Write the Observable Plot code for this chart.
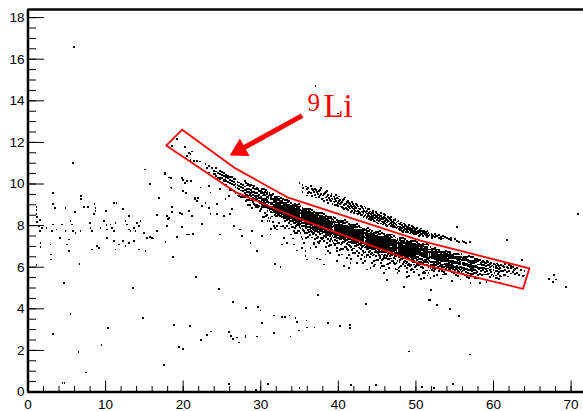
<!DOCTYPE html>
<html><head><meta charset="utf-8">
<script src="https://cdn.jsdelivr.net/npm/d3@7"></script>
<script src="https://cdn.jsdelivr.net/npm/@observablehq/plot@0.6"></script>
<style>html,body{margin:0;padding:0;background:#fff;} svg{display:block;}</style>
</head><body>
<div id="chart"></div>
<script>
// ---- axes / ticks ----
const xDomain = [0, 71.6];
const yDomain = [0, 18.39];
const xMajorTicks = [0, 10, 20, 30, 40, 50, 60, 70];
const yMajorTicks = [0, 2, 4, 6, 8, 10, 12, 14, 16, 18];
const xMinorTicks = d3.range(0, 72, 2);
const yMinorTicks = d3.range(0, 18.5, 0.5);

// ---- red selection band (polygon) ----
const polyX = [19.87, 26.74, 33.44, 50.58, 64.62, 63.81, 50.58, 34.47, 26.74, 17.81, 19.87];
const polyY = [12.61, 10.75, 9.36, 7.28, 5.94, 4.96, 6.16, 8.40, 9.61, 11.85, 12.61];

// ---- arrow and label ----
const arrowTail = [35.34, 13.29];
const arrowTip = [26.0, 11.37];
const labelMain = {x: 38.08, y: 13.21, text: "Li"};
const labelSup = {x: 36.02, y: 13.53, text: "9"};

// ---- isolated points [x, y] ----
const sparsePts = [
[5.9,16.57],[37.05,14.72],[39.92,13.39],
[5.8,11.03],[15.1,10.7],[17.7,10.5],[18.4,10.3],[15.7,10.0],[19.9,10.27],[20.2,10.06],[21.0,10.14],[18.5,9.82],[3.2,9.58],[20.0,9.66],[20.4,9.58],[6.8,9.42],[6.8,9.26],[16.9,9.34],[21.5,9.26],[21.9,9.34],[3.2,9.05],[3.45,8.86],[1.1,8.89],[1.1,8.73],[1.1,8.57],[1.2,8.41],[1.5,8.25],[4.83,8.83],[6.1,8.67],[7.2,8.89],[7.7,8.9],[8.57,9.02],[8.7,8.86],[8.7,8.7],[8.5,8.57],[11.1,9.07],[11.4,9.07],[10.0,8.7],[12.3,8.81],[13.0,8.46],[14.1,8.14],[16.6,8.5],[17.9,8.46],[18.1,8.3],[18.6,8.9],[19.6,8.6],[20.7,8.7],[21.2,8.46],
[1.18,8.18],[1.4,7.97],[1.53,7.76],[1.83,7.89],[2.39,7.89],[3.25,8.05],[3.12,7.73],[3.68,7.81],[4.41,8.05],[4.84,7.73],[5.48,8.24],[5.7,8.05],[5.82,7.73],[7.97,8.13],[8.06,7.89],[8.27,7.73],[9.35,7.89],[9.78,8.21],[10.12,8.02],[10.21,7.81],[10.64,8.05],[10.85,7.89],[11.07,7.73],[11.28,8.13],[12.57,8.21],[12.78,8.05],[13.0,7.81],[13.21,7.73],[13.64,7.89],[13.86,7.73],[14.29,7.97],[14.5,8.21],[14.93,7.65],[15.36,7.41],[15.7,7.44],[16.13,7.38],[16.65,7.73],[17.94,7.97],[19.87,7.92],[20.73,7.57],[21.29,7.6],
[1.61,7.17],[1.61,6.96],[2.9,7.09],[2.99,6.61],[2.99,6.37],[4.11,7.41],[5.05,7.09],[5.27,7.33],[5.27,6.77],[6.12,7.65],[6.77,7.73],[8.27,6.85],[8.92,7.01],[9.13,6.93],[10.21,7.41],[11.07,7.25],[11.28,6.85],[11.71,7.09],[12.27,7.25],[12.57,7.01],[13.0,7.17],[13.64,7.25],[14.29,6.85],[15.15,6.77],[16.0,7.41],[17.72,7.2],[18.71,6.48],[19.23,7.44],[20.52,7.57],[1.1,6.12],[6.64,6.16],
[4.62,5.25],[13.56,5.0],[5.48,3.75],[14.84,3.56],[3.2,2.79],[10.29,3.08],[18.8,3.21],[20.86,3.16],[6.51,1.92],[9.48,2.24],[19.5,2.15],[20.0,2.05],[7.5,0.94],[17.5,1.28],[4.45,0.44],[4.71,0.44],[21.67,5.54],
[22.31,2.51],[23.09,2.72],[23.6,2.91],[26.44,4.33],[25.88,2.88],[26.18,2.7],[26.44,2.54],[26.95,2.62],[27.17,2.38],[28.03,2.7],[28.03,2.66],[28.15,4.04],[29.53,2.67],[29.66,4.08],[29.96,3.92],[30.17,3.3],[31.76,3.68],[31.76,2.82],[32.75,3.6],[33.1,3.6],[33.7,3.68],[33.83,2.67],[34.47,3.55],[34.68,3.35],[34.94,2.96],[35.89,3.44],[35.97,3.1],[36.92,3.1],[37.43,4.65],[38.72,3.3],[40.27,3.17],[41.47,3.22],[41.47,3.07],[43.62,4.23],[49.08,1.95],[51.65,4.42],[52.73,4.17],[54.36,3.99],[55.52,3.65],[56.93,1.8],[25.88,0.39],[29.44,0.1],[30.95,0.39],[34.99,0.18],[41.6,0.34],[44.82,0.34],[50.75,0.25],[52.34,0.18],[54.79,0.39],
[24.59,4.97],[31.89,6.16],[32.54,6.02],
[21.28,7.61],[22.44,8.06],[23.52,8.54],[24.38,8.54],[24.72,7.57],[25.24,8.46],[26.09,8.54],[26.52,7.98],[27.38,7.81],[27.6,7.49],[28.67,7.17],[28.89,7.73],[29.53,6.77],[30.18,7.49],[31.25,7.57],[32.11,7.81],[32.97,7.41],[32.75,7.09],[33.4,7.17],[34.26,7.09],[34.69,6.8],[35.33,6.93],[35.76,6.77],[35.97,6.37],[36.83,7.09],[37.69,6.37],[38.34,6.61],[38.98,6.69],[39.84,6.93],[40.48,6.61],[41.13,6.45],[41.56,6.21],[42.42,6.77],[42.85,6.37],[43.49,6.29],[44.14,5.97],[44.78,6.13],[45.42,6.53],[45.85,5.73],[46.28,5.4],[46.5,5.97],
[35.76,6.53],[36.41,6.94],[37.27,6.42],[38.12,6.13],[39.84,6.29],[40.7,6.05],[41.35,5.97],[42.42,6.21],[43.71,5.89],[44.57,6.29],[45.43,5.97],[46.29,6.13],[47.57,5.89],[48.86,5.97],[49.72,6.13],
[70.94,8.55],[61.75,7.3],[67.12,5.45],[67.77,5.61],[68.11,5.41],[67.68,5.29],[69.36,5.04],[63.69,6.34],[63.81,5.57],[63.26,5.61],[60.9,5.24],[58.3,5.24],[59.09,5.28],[57.67,5.49],[51.96,4.92],[51.79,4.41],[48.44,5.04],[46.29,5.37],[48.87,5.52],[47.79,5.81],[51.01,5.49],[52.3,5.57],[54.67,5.33],[55.74,5.41],[57.03,5.24],[55.31,7.93],[45.86,6.45],[45.64,6.05],
[19.22,12.16],[18.58,11.84],[20.21,11.79],[20.73,11.51],[20.94,11.43],[21.16,11.56],[20.51,11.35],[20.94,11.14],[21.37,11.11],[21.8,11.11],[22.14,11.08],[22.87,10.95],[23.3,10.87],[23.09,10.79],[23.73,10.79],[23.95,10.63],[24.16,10.5],[23.3,10.55],[24.8,10.31],[25.24,10.15],[25.45,10.23],[25.88,10.07],
[17.63,10.55],[18.15,10.31],[18.36,9.83],[19.95,10.18],[20.51,10.15],[21.5,9.35],[22.23,9.83],[23.3,9.91],[23.52,9.59],[24.38,9.02],[24.8,9.75],[25.45,9.27],[25.88,9.43],[22.44,8.94],[22.87,9.1],[23.3,8.86],[16.86,9.35],[21.8,9.18],[18.58,8.67],[19.87,8.54],[21.16,8.46],[26.31,8.78],[18.15,8.38]
];

// ---- main 9Li band: "x  y y y ..." per column ----
const mainBand = [
"24.0 10.65 10.5","24.25 10.6 10.38 10.75","24.5 10.52 10.3","24.75 10.48 10.62 10.22",
"25.0 10.44 10.3 10.56","25.25 10.4 10.2 10.51","25.5 10.35 10.15 10.45 9.95","25.75 10.28 10.1 10.4",
"26.0 10.34 10.18 10.03 9.73","26.25 10.32 10.15 10.00 9.73","26.5 10.25 10.09 9.94 9.66","26.75 10.24 10.02 9.87 9.56",
"27.0 10.10 9.95 9.80 9.45","27.25 10.07 9.91 9.76 9.44","27.5 9.99 9.84 9.69 9.37","27.75 9.96 9.80 9.67 9.39",
"28.0 10.15 9.88 9.73 9.58 9.38","28.25 9.93 9.76 9.61 9.46 9.22","28.5 9.96 9.75 9.60 9.45 9.23","28.75 9.94 9.71 9.56 9.41 9.21",
"29.0 9.82 9.63 9.48 9.33 9.14","29.25 9.75 9.57 9.42 9.27 9.00","29.5 9.81 9.57 9.42 9.27 9.01","29.75 9.68 9.49 9.34 9.19 8.94",
"30.0 9.69 9.55 9.39 9.31 9.16 9.07 8.80","30.25 9.55 9.45 9.30 9.22 9.07 8.96 8.42","30.5 9.61 9.49 9.27 9.22 9.07 8.95 8.59","30.75 9.51 9.39 9.23 9.15 9.00 8.91 8.50",
"31.0 9.43 9.32 9.16 9.09 8.94 8.84 8.36","31.25 9.37 9.26 9.10 9.03 8.88 8.83 8.36","31.5 9.45 9.27 9.10 9.03 8.88 8.79 8.44","31.75 9.23 9.14 8.99 8.91 8.76 8.67 8.00",
"32.0 9.20 9.10 9.02 8.95 8.87 8.80 8.72 8.61 8.45","32.25 9.25 9.11 9.02 8.95 8.87 8.80 8.72 8.63 8.52","32.5 9.19 9.07 8.98 8.91 8.83 8.76 8.68 8.59 8.46","32.75 9.20 9.08 8.96 8.86 8.81 8.71 8.66 8.54 8.40",
"33.0 9.08 8.97 8.89 8.81 8.74 8.66 8.59 8.49 8.34","33.25 9.03 8.92 8.84 8.76 8.69 8.63 8.54 8.49 8.35","33.5 9.13 8.95 8.86 8.78 8.71 8.63 8.56 8.47 8.36","33.75 8.92 8.83 8.75 8.68 8.60 8.53 8.45 8.36 8.21",
"34.0 8.96 8.84 8.75 8.68 8.60 8.53 8.45 8.36 8.23 7.95","34.25 8.86 8.76 8.68 8.61 8.53 8.46 8.38 8.27 8.11 7.73","34.5 8.98 8.80 8.71 8.63 8.56 8.48 8.41 8.32 8.21 7.97","34.75 8.82 8.71 8.63 8.55 8.48 8.40 8.33 8.23 8.08 7.75",
"35.0 8.84 8.70 8.61 8.54 8.46 8.39 8.31 8.22 8.11 7.95","35.25 8.69 8.60 8.52 8.45 8.37 8.30 8.22 8.13 7.98 7.46","35.5 8.79 8.67 8.55 8.45 8.40 8.30 8.25 8.13 7.99 7.77","35.75 8.66 8.55 8.47 8.39 8.32 8.26 8.17 8.12 7.98 7.65",
"36.0 8.66 8.54 8.45 8.38 8.30 8.23 8.15 8.06 7.93 7.65","36.25 8.72 8.54 8.45 8.37 8.30 8.22 8.15 8.06 7.95 7.71","36.5 8.63 8.49 8.40 8.33 8.25 8.18 8.10 8.01 7.90 7.74","36.75 8.62 8.50 8.38 8.28 8.23 8.13 8.08 7.96 7.82 7.60",
"37.0 8.48 8.38 8.30 8.23 8.15 8.08 8.00 7.89 7.73 7.35","37.25 8.47 8.36 8.28 8.20 8.13 8.05 7.98 7.88 7.73 7.40","37.5 8.39 8.30 8.22 8.15 8.07 8.00 7.92 7.83 7.68 7.16","37.75 8.40 8.29 8.21 8.13 8.06 8.00 7.91 7.86 7.72 7.39",
"38.0 8.41 8.29 8.20 8.13 8.05 7.98 7.90 7.81 7.68 7.40","38.25 8.41 8.27 8.18 8.11 8.03 7.96 7.88 7.79 7.68 7.52","38.5 8.29 8.19 8.11 8.04 7.96 7.89 7.81 7.70 7.54 7.16","38.75 8.24 8.15 8.07 8.00 7.92 7.85 7.77 7.68 7.53 7.01",
"39.0 8.38 8.20 8.11 8.03 7.96 7.88 7.81 7.72 7.61 7.37","39.25 8.30 8.18 8.06 7.96 7.91 7.81 7.76 7.64 7.50 7.28","39.5 8.19 8.08 8.00 7.92 7.85 7.77 7.70 7.60 7.45 7.12","39.75 8.15 8.04 7.96 7.88 7.81 7.75 7.66 7.61 7.47 7.14",
"40.0 8.16 8.04 7.95 7.88 7.80 7.73 7.65 7.56 7.43 7.15","40.25 8.05 7.96 7.88 7.81 7.73 7.66 7.58 7.49 7.34 6.82","40.5 8.19 8.01 7.92 7.84 7.77 7.69 7.62 7.53 7.42 7.18","40.75 8.10 7.96 7.87 7.80 7.72 7.65 7.57 7.48 7.37 7.21",
"41.0 8.00 7.89 7.81 7.73 7.66 7.60 7.51 7.46 7.32 6.99","41.25 7.94 7.84 7.76 7.69 7.61 7.54 7.46 7.35 7.19 6.81","41.5 8.02 7.90 7.78 7.68 7.63 7.53 7.48 7.36 7.22 7.00","41.75 7.91 7.80 7.72 7.64 7.57 7.49 7.42 7.32 7.17 6.84",
"42.0 7.91 7.79 7.70 7.63 7.55 7.48 7.40 7.31 7.18 6.90","42.25 7.91 7.77 7.68 7.61 7.53 7.46 7.38 7.29 7.18 7.02","42.5 7.77 7.68 7.60 7.53 7.45 7.38 7.30 7.21 7.06 6.54","42.75 7.91 7.73 7.64 7.56 7.49 7.41 7.34 7.25 7.14 6.90",
"43.0 7.73 7.63 7.55 7.48 7.40 7.33 7.25 7.14 6.98 6.60","43.25 7.71 7.60 7.52 7.44 7.37 7.31 7.22 7.17 7.03 6.70","43.5 7.77 7.65 7.53 7.43 7.38 7.28 7.23 7.11 6.97 6.75","43.75 7.66 7.55 7.47 7.39 7.32 7.24 7.17 7.07 6.92 6.59",
"44.0 7.75 7.57 7.48 7.40 7.33 7.25 7.18 7.09 6.98 6.74","44.25 7.64 7.52 7.43 7.36 7.28 7.21 7.13 7.04 6.91 6.63","44.5 7.57 7.46 7.38 7.30 7.23 7.17 7.08 7.03 6.89 6.56","44.75 7.62 7.48 7.39 7.32 7.24 7.17 7.09 7.00 6.89 6.73",
"45.0 7.50 7.40 7.32 7.25 7.17 7.10 7.02 6.91 6.75 6.37","45.25 7.59 7.47 7.35 7.25 7.20 7.10 7.05 6.93 6.79 6.57","45.5 7.43 7.34 7.26 7.19 7.11 7.04 6.96 6.87 6.72 6.20","45.75 7.46 7.35 7.27 7.19 7.12 7.04 6.97 6.87 6.72 6.39",
"46.0 7.49 7.35 7.26 7.19 7.11 7.04 6.96 6.87 6.76 6.60","46.25 7.53 7.35 7.26 7.18 7.11 7.03 6.96 6.87 6.76 6.52","46.5 7.41 7.29 7.20 7.13 7.05 6.98 6.90 6.81 6.68 6.40","46.75 7.44 7.32 7.20 7.10 7.05 6.95 6.90 6.78 6.64 6.42",
"47.0 7.32 7.21 7.13 7.05 6.98 6.92 6.83 6.78 6.64 6.31","47.25 7.28 7.18 7.10 7.03 6.95 6.88 6.80 6.69 6.53 6.15","47.5 7.28 7.17 7.09 7.01 6.94 6.86 6.79 6.69 6.54 6.21","47.75 7.21 7.12 7.04 6.97 6.89 6.82 6.74 6.65 6.50 5.98",
"48.0 7.35 7.17 7.08 7.00 6.93 6.85 6.78 6.69 6.58 6.34","48.25 7.27 7.13 7.04 6.97 6.89 6.82 6.74 6.65 6.54 6.38","48.5 7.26 7.14 7.02 6.92 6.87 6.77 6.72 6.60 6.46 6.24","48.75 7.19 7.07 6.98 6.91 6.83 6.76 6.68 6.59 6.46 6.18",
"49.0 7.12 7.01 6.93 6.85 6.78 6.72 6.63 6.58 6.44 6.11","49.25 7.11 7.00 6.92 6.84 6.77 6.69 6.62 6.52 6.37 6.04","49.5 7.05 6.95 6.87 6.80 6.72 6.65 6.57 6.46 6.30 5.92","49.75 7.01 6.92 6.84 6.77 6.69 6.62 6.54 6.45 6.30 5.78",
"50.0 7.06 6.94 6.85 6.78 6.70 6.63 6.46 6.05","50.25 7.13 6.95 6.86 6.78 6.71 6.63 6.47 6.12","50.5 7.04 6.90 6.81 6.74 6.66 6.59 6.42 6.15","50.75 7.04 6.92 6.80 6.70 6.65 6.55 6.38 6.02",
"51.0 6.90 6.80 6.72 6.65 6.57 6.50 6.31 5.77","51.25 6.91 6.80 6.72 6.64 6.57 6.49 6.32 5.84","51.5 6.83 6.74 6.66 6.59 6.51 6.44 6.27 5.60","51.75 6.85 6.74 6.66 6.58 6.51 6.45 6.31 5.84",
"52.0 6.86 6.74 6.65 6.58 6.50 6.43 6.26 5.85","52.25 6.87 6.73 6.64 6.57 6.49 6.42 6.25 5.98","52.5 6.91 6.73 6.64 6.56 6.49 6.41 6.25 5.90","52.75 6.74 6.64 6.56 6.49 6.41 6.34 6.15 5.61",
"53.0 6.84 6.72 6.60 6.50 6.45 6.35 6.18 5.82","53.25 6.69 6.60 6.52 6.45 6.37 6.30 6.13 5.46","53.5 6.72 6.61 6.53 6.45 6.38 6.30 6.13 5.65","53.75 6.69 6.58 6.50 6.42 6.35 6.29 6.15 5.68",
"54.0 6.62 6.53 6.38 6.30 6.14 6.03","54.25 6.52 6.44 6.29 6.22 6.05 5.90","54.5 6.55 6.46 6.31 6.24 6.07 5.94","54.75 6.58 6.46 6.31 6.21 6.04 5.90",
"55.0 6.50 6.42 6.27 6.19 6.02 5.87","55.25 6.47 6.39 6.24 6.18 6.04 5.90","55.5 6.44 6.36 6.21 6.14 5.95 5.79","55.75 6.47 6.38 6.23 6.16 5.99 5.88",
"56.0 6.44 6.35 6.20 6.13 5.96 5.83","56.25 6.45 6.36 6.21 6.13 5.97 5.86","56.5 6.45 6.33 6.18 6.08 5.91 5.77","56.75 6.36 6.28 6.13 6.05 5.88 5.73",
"57.0 6.32 6.24 6.09 6.02 5.85 5.70","57.25 6.31 6.23 6.08 6.01 5.82 5.66","57.5 6.30 6.22 6.07 6.01 5.87 5.73","57.75 6.32 6.23 6.08 6.01 5.84 5.73",
"58.0 6.28 6.13 5.98 5.63","58.25 6.35 6.13 5.98 5.67","58.5 6.26 6.10 5.95 5.63","58.75 6.26 6.10 5.95 5.65",
"59.0 6.22 6.06 5.93 5.65","59.25 6.26 6.09 5.94 5.67","59.5 6.16 6.01 5.86 5.54","59.75 6.20 6.04 5.89 5.61",
"60.0 6.17 6.01 5.86 5.56","60.25 6.13 5.97 5.82 5.50","60.5 6.18 5.96 5.81 5.50","60.75 6.07 5.92 5.77 5.42",
"61.0 6.12 5.83 5.55","61.25 6.07 5.80","61.5 6.15 5.86 5.62","61.75 6.01 5.78",
"62.0 6.10 5.81","62.25 5.96 5.70 6.05","62.5 6.00 5.76","62.75 5.90 5.68",
"63.0 5.98 5.72","63.5 5.85","64.0 5.80 5.60"
];

// ---- main band, in-between columns (wider spread) ----
const mainBand2 = [
"28.125 10.06 9.71 9.46 9.18","28.375 9.98 9.62 9.38 9.00","28.625 9.91 9.53 9.30 9.01","28.875 9.93 9.62 9.23 8.86",
"29.125 9.89 9.60 9.29 9.03","29.375 9.74 9.35 9.22 8.90","29.625 9.76 9.41 9.16 8.88","29.875 9.68 9.32 9.08 8.70",
"30.125 9.74 9.61 9.23 9.00 8.88 8.23","30.375 9.75 9.54 9.15 9.02 8.88 8.43","30.625 9.73 9.59 9.30 8.99 8.88 8.45","30.875 9.61 9.53 9.22 8.83 8.70 8.23",
"31.125 9.58 9.46 9.11 8.86 8.75 8.23","31.375 9.46 9.38 9.02 8.78 8.66 7.83","31.625 9.50 9.29 8.90 8.77 8.63 8.18","31.875 9.39 9.26 8.88 8.65 8.53 7.88",
"32.125 9.36 9.28 8.97 8.58 8.45 7.98","32.375 9.40 9.26 8.97 8.66 8.55 8.12","32.625 9.31 9.19 8.84 8.59 8.48 7.96","32.875 9.29 9.08 8.69 8.56 8.42 7.97",
"33.125 9.23 9.11 9.00 8.76 8.51 8.40 8.23 7.88","33.375 9.25 9.11 9.00 8.82 8.51 8.40 8.25 7.97","33.625 9.18 8.97 8.85 8.58 8.45 8.31 8.13 7.86","33.875 9.08 8.95 8.83 8.57 8.34 8.22 8.05 7.57",
"34.125 9.01 8.93 8.82 8.57 8.33 8.21 7.95 7.38","34.375 9.03 8.95 8.80 8.64 8.25 8.12 7.88 7.65","34.625 9.01 8.89 8.78 8.54 8.29 8.18 8.01 7.66","34.875 9.02 8.88 8.77 8.59 8.28 8.17 8.02 7.74",
"35.125 8.95 8.74 8.62 8.35 8.22 8.08 7.90 7.63","35.375 8.86 8.73 8.61 8.35 8.12 8.00 7.83 7.35","35.625 8.79 8.71 8.60 8.35 8.11 7.99 7.73 7.16","35.875 8.80 8.72 8.57 8.41 8.02 7.89 7.65 7.42",
"36.125 8.79 8.67 8.56 8.32 8.07 7.96 7.79 7.44","36.375 8.81 8.67 8.56 8.38 8.07 7.96 7.81 7.53","36.625 8.75 8.54 8.42 8.15 8.02 7.88 7.70 7.43","36.875 8.66 8.53 8.41 8.15 7.92 7.80 7.63 7.15",
"37.125 8.59 8.51 8.40 8.15 7.91 7.79 7.53 6.96","37.375 8.61 8.53 8.38 8.22 7.83 7.70 7.46 7.23","37.625 8.60 8.48 8.37 8.13 7.88 7.77 7.60 7.25","37.875 8.62 8.48 8.37 8.19 7.88 7.77 7.62 7.34",
"38.125 8.56 8.35 8.23 7.96 7.83 7.69 7.51 7.24","38.375 8.47 8.34 8.22 7.96 7.73 7.61 7.44 6.96","38.625 8.41 8.33 8.22 7.97 7.73 7.61 7.35 6.78","38.875 8.43 8.35 8.20 8.04 7.65 7.52 7.28 7.05",
"39.125 8.41 8.29 8.18 7.94 7.69 7.58 7.41 7.06","39.375 8.43 8.29 8.18 8.00 7.69 7.58 7.43 7.15","39.625 8.37 8.16 8.04 7.77 7.64 7.50 7.32 7.05","39.875 8.28 8.15 8.03 7.77 7.54 7.42 7.25 6.77",
"40.125 8.22 8.14 8.03 7.78 7.54 7.42 7.16 6.59","40.375 8.24 8.16 8.01 7.85 7.46 7.33 7.09 6.86","40.625 8.23 8.11 8.00 7.76 7.51 7.40 7.23 6.88","40.875 8.25 8.11 8.00 7.82 7.51 7.40 7.25 6.97",
"41.125 8.18 7.97 7.85 7.58 7.45 7.31 7.13 6.86","41.375 8.09 7.96 7.84 7.58 7.35 7.23 7.06 6.58","41.625 8.03 7.95 7.84 7.59 7.35 7.23 6.97 6.40","41.875 8.05 7.97 7.82 7.66 7.27 7.14 6.90 6.67",
"42.125 8.04 7.92 7.81 7.57 7.32 7.21 7.04 6.69","42.375 8.06 7.92 7.81 7.63 7.32 7.21 7.06 6.78","42.625 8.00 7.79 7.67 7.40 7.27 7.13 6.95 6.68","42.875 7.91 7.78 7.66 7.40 7.17 7.05 6.88 6.40",
"43.125 7.84 7.76 7.65 7.40 7.16 7.04 6.78 6.21","43.375 7.86 7.78 7.63 7.47 7.08 6.95 6.71 6.48","43.625 7.85 7.73 7.62 7.38 7.13 7.02 6.85 6.50","43.875 7.87 7.73 7.62 7.44 7.13 7.02 6.87 6.59",
"44.125 7.81 7.60 7.48 7.21 7.08 6.94 6.76 6.49","44.375 7.73 7.60 7.48 7.22 6.99 6.87 6.70 6.22","44.625 7.67 7.59 7.48 7.23 6.99 6.87 6.61 6.04","44.875 7.70 7.62 7.47 7.31 6.92 6.79 6.55 6.32",
"45.125 7.69 7.57 7.46 7.22 6.97 6.86 6.69 6.34","45.375 7.72 7.58 7.47 7.29 6.98 6.87 6.72 6.44","45.625 7.66 7.45 7.33 7.06 6.93 6.79 6.61 6.34","45.875 7.58 7.45 7.33 7.07 6.84 6.72 6.55 6.07",
"46.125 7.52 7.44 7.33 7.08 6.84 6.72 6.46 5.89","46.375 7.55 7.47 7.32 7.16 6.77 6.64 6.40 6.17","46.625 7.54 7.42 7.31 7.07 6.82 6.71 6.54 6.19","46.875 7.57 7.43 7.32 7.14 6.83 6.72 6.57 6.29",
"47.125 7.51 7.30 7.18 6.91 6.78 6.64 6.46 6.19","47.375 7.43 7.30 7.18 6.92 6.69 6.57 6.40 5.92","47.625 7.37 7.29 7.18 6.93 6.69 6.57 6.31 5.74","47.875 7.40 7.32 7.17 7.01 6.62 6.49 6.25 6.02",
"48.125 7.39 7.27 7.16 6.92 6.67 6.56 6.39 6.04","48.375 7.42 7.28 7.17 6.99 6.68 6.57 6.42 6.14","48.625 7.36 7.15 7.03 6.76 6.63 6.49 6.31 6.04","48.875 7.28 7.15 7.03 6.77 6.54 6.42 6.25 5.77",
"49.125 7.22 7.14 7.03 6.78 6.54 6.42 6.16 5.59","49.375 7.25 7.17 7.02 6.86 6.47 6.34 6.10 5.87","49.625 7.24 7.12 7.01 6.77 6.52 6.41 6.24 5.89","49.875 7.27 7.13 7.02 6.84 6.53 6.42 6.27 5.99",
"50.125 7.21 7.00 6.88 6.61 6.48 6.34 6.16 5.89","50.375 7.13 7.00 6.88 6.62 6.39 6.27 6.10 5.62","50.625 7.07 6.99 6.88 6.63 6.39 6.27 6.01 5.44","50.875 7.10 7.02 6.87 6.71 6.32 6.19 5.95 5.72",
"51.125 7.09 6.97 6.86 6.62 6.37 6.26 6.09 5.74","51.375 7.12 6.98 6.87 6.69 6.38 6.27 6.12 5.84","51.625 7.06 6.85 6.73 6.46 6.33 6.19 6.01 5.74","51.875 6.98 6.85 6.73 6.47 6.24 6.12 5.95 5.47",
"52.125 6.84 6.73 6.48 6.24 6.12 5.86","52.375 6.87 6.72 6.56 6.17 6.04 5.80","52.625 6.83 6.72 6.48 6.23 6.12 5.95","52.875 6.85 6.74 6.56 6.25 6.14 5.99",
"53.125 6.73 6.61 6.34 6.21 6.07 5.89","53.375 6.73 6.61 6.35 6.12 6.00 5.83","53.625 6.73 6.62 6.37 6.13 6.01 5.75","53.875 6.76 6.61 6.45 6.06 5.93 5.69",
"54.125 6.72 6.61 6.37 6.12 6.01 5.84","54.375 6.73 6.62 6.44 6.13 6.02 5.87","54.625 6.61 6.49 6.22 6.09 5.95 5.77","54.875 6.62 6.50 6.24 6.01 5.89 5.72",
"55.125 6.62 6.51 6.26 6.02 5.90 5.64","55.375 6.65 6.50 6.34 5.95 5.82 5.58","55.625 6.61 6.50 6.26 6.01 5.90 5.73","55.875 6.62 6.51 6.33 6.02 5.91 5.76",
"56.125 6.50 6.11 5.98 5.66","56.375 6.50 6.12 5.89 5.60","56.625 6.50 6.14 5.90 5.52","56.875 6.54 6.23 5.84 5.47",
"57.125 6.50 6.15 5.90 5.62","57.375 6.51 6.22 5.91 5.65","57.625 6.39 6.00 5.87 5.55","57.875 6.39 6.01 5.78 5.49",
"58.125 6.35 5.92","58.375 6.22 5.80","58.625 6.30 5.86","58.875 6.18 5.75","59.125 6.28 5.83","59.375 6.12 5.70","59.625 6.22 5.78","59.875 6.08 5.65",
"60.125 6.15 5.72","60.375 6.05 5.60","60.625 6.12 5.68","60.875 5.98 5.57","61.375 6.02 5.64","61.875 5.95 5.55","62.625 5.88"
];

// ---- secondary band above the box ----
const sideBand = [
"35.0 10.05","35.5 9.80","36.0 9.75 9.45","36.25 9.62","36.5 9.90 9.55","36.75 9.70",
"37.0 9.48 9.78","37.25 9.60","37.5 9.38 9.66","37.75 9.52 9.80","38.0 9.30 9.45","38.25 9.58",
"38.5 9.22 9.40 9.65","38.75 9.32","39.0 9.18 9.42","39.25 9.05 9.28","39.5 9.36 9.12","39.75 9.20 9.48",
"40.0 8.95 9.10 9.30","40.25 9.02 9.22","40.5 8.90 9.15","40.75 8.98 9.28 8.80","41.0 8.86 9.05","41.25 8.95 9.18 8.74",
"41.5 8.82 9.02","41.75 8.70 8.90 9.12","42.0 8.78 8.60 8.96","42.25 8.68 8.85 9.05","42.5 8.72 8.55 8.92","42.75 8.62 8.80",
"43.0 8.50 8.68 8.88","43.25 8.58 8.75 8.42","43.5 8.52 8.66 8.85","43.75 8.40 8.58 8.72","44.0 8.45 8.32 8.62 8.80","44.25 8.38 8.55 8.25",
"44.5 8.42 8.30 8.60 8.72","44.75 8.35 8.50 8.20","45.0 8.28 8.42 8.15 8.58","45.25 8.22 8.36 8.50","45.5 8.30 8.10 8.45 8.62","45.75 8.18 8.32 8.05",
"46.0 8.24 8.10 8.38 8.50","46.25 8.15 8.28 8.00","46.5 8.20 8.05 8.35","46.75 8.12 7.98 8.26 8.42","47.0 8.05 8.18 7.92","47.25 8.10 7.95 8.28",
"47.5 8.02 7.88 8.15","47.75 7.96 8.10 7.82 8.22","48.0 7.95 7.80 8.08","48.25 7.88 8.02 7.75","48.5 7.92 7.78 8.10","48.75 7.85 7.70 7.98",
"49.0 7.82 7.95 7.68","49.25 7.78 7.90 7.62","49.5 7.85 7.72 7.98","49.75 7.75 7.60 7.88","50.0 7.70 7.82 7.58","50.25 7.76 7.62",
"50.5 7.68 7.80 7.55","50.75 7.72 7.58","51.0 7.62 7.75","51.25 7.55 7.68","51.5 7.60 7.48 7.72","51.75 7.56",
"52.0 7.62 7.48","52.25 7.52","52.5 7.44 7.58","52.75 7.50","53.0 7.42 7.55","53.5 7.38 7.48",
"54.0 7.40","54.5 7.30 7.42","55.0 7.35","55.5 7.22","56.0 7.28","56.5 7.18","57.0 7.20"
];
const sideBand2 = [
"35.375 9.95 9.62","35.875 9.88","36.125 9.55 9.82","36.625 9.78 9.42","36.875 9.60","37.125 9.70 9.35","37.375 9.52","37.625 9.45 9.72",
"37.875 9.28","38.125 9.50 9.18","38.375 9.35 9.62","38.625 9.10 9.48","38.875 9.25","39.125 9.52 9.30","39.375 9.16 9.40","39.625 9.00 9.28",
"39.875 9.34 8.98","40.125 9.18 9.40","40.375 8.92 9.10","40.625 9.24 8.85","40.875 9.06 9.35","41.125 8.80 9.12","41.375 8.88 9.08","41.625 8.96 8.65",
"41.875 8.82 9.02","42.125 8.70 8.90","42.375 8.58 8.98","42.625 8.82 8.66","42.875 8.52 8.94","43.125 8.65 8.82","43.375 8.48 8.70 8.92","43.625 8.60 8.38",
"43.875 8.52 8.80","44.125 8.40 8.68","44.375 8.62 8.35 8.48","44.625 8.22 8.52","44.875 8.45 8.66","45.125 8.35 8.10 8.52","45.375 8.44 8.28","45.625 8.20 8.38",
"45.875 8.40 8.12 8.55","46.125 8.32 8.04","46.375 8.22 8.42","46.625 8.10 8.30","46.875 8.02 8.18","47.125 8.25 7.98 8.12","47.375 8.05 8.34","47.625 7.92 8.20",
"47.875 8.05 7.90","48.125 8.15 7.85","48.375 7.95 7.70","48.625 8.02 7.82","48.875 7.92 7.76","49.125 7.88 8.02","49.375 7.70 7.84","49.625 7.92 7.65",
"49.875 7.80 7.68","50.125 7.88 7.64","50.375 7.70 7.52","50.625 7.62 7.86","50.875 7.66 7.50","51.125 7.70 7.58","51.375 7.62 7.45","51.625 7.52 7.66",
"52.125 7.55 7.42","52.625 7.52","53.25 7.46 7.35","53.75 7.44","54.25 7.36","55.25 7.28","56.25 7.22"
];

// ---- build tables ----
function parseCols(cols) {
  const out = [];
  for (const s of cols) {
    const v = s.trim().split(/\s+/).map(Number);
    for (let i = 1; i < v.length; i++) out.push({x: v[0], y: v[i]});
  }
  return out;
}
const points = [
  ...sparsePts.map(([x, y]) => ({x, y})),
  ...parseCols(mainBand),
  ...parseCols(mainBand2),
  ...parseCols(sideBand),
  ...parseCols(sideBand2)
];
const polygon = polyX.map((x, i) => ({x, y: polyY[i]}));
const arrow = [{x1: arrowTail[0], y1: arrowTail[1], x2: arrowTip[0], y2: arrowTip[1]}];

const serif = "'Liberation Serif', 'Times New Roman', serif";
const chart = Plot.plot({
  width: 583,
  height: 411,
  marginLeft: 27.5,
  marginRight: 0,
  marginTop: 9,
  marginBottom: 19.5,
  style: {fontFamily: "'Liberation Sans', Arial, Helvetica, sans-serif", fontSize: "13.5px", background: "#fff", color: "#000"},
  x: {domain: xDomain},
  y: {domain: yDomain},
  marks: [
    Plot.dot(points, {x: "x", y: "y", symbol: "square", r: 1.05, fill: "#000", stroke: "none", shapeRendering: "crispEdges"}),
    Plot.line(polygon, {x: "x", y: "y", stroke: "#ff0000", strokeWidth: 1.8, curve: "linear"}),
    Plot.arrow(arrow, {x1: "x1", y1: "y1", x2: "x2", y2: "y2", stroke: "#ff0000", strokeWidth: 5, headLength: 0, insetEnd: 13, strokeLinecap: "butt"}),
    Plot.dot([{x: arrowTip[0], y: arrowTip[1]}], {x: "x", y: "y", symbol: "triangle", r: 7.4, fill: "#ff0000", stroke: "none", rotate: -119, dx: 10.0, dy: -5.5}),
    Plot.text([labelMain], {x: "x", y: "y", text: "text", fill: "#ff0000", fontFamily: serif, fontSize: 33, textAnchor: "start", lineAnchor: "bottom"}),
    Plot.text([labelSup], {x: "x", y: "y", text: "text", fill: "#ff0000", fontFamily: serif, fontSize: 25, textAnchor: "start", lineAnchor: "bottom"}),
    // minor ticks (inside)
    Plot.axisX(xMinorTicks, {anchor: "bottom", tickSize: -5.5, tickFormat: () => "", label: null, stroke: "#000"}),
    Plot.axisY(yMinorTicks, {anchor: "left", tickSize: -8.5, tickFormat: () => "", label: null, stroke: "#000"}),
    // major ticks + labels
    Plot.axisX(xMajorTicks, {anchor: "bottom", tickSize: -11, tickPadding: 18.3, label: null, stroke: "#000", fill: "#000", tickFormat: d => String(d)}),
    Plot.axisY(yMajorTicks, {anchor: "left", tickSize: -16.5, tickPadding: 20, label: null, stroke: "#000", fill: "#000", tickFormat: d => String(d)}),
    // frame
    Plot.ruleX([xDomain[0]], {stroke: "#000", strokeWidth: 2.5}),
    Plot.ruleY([yDomain[0]], {stroke: "#000", strokeWidth: 2.5}),
    Plot.ruleY([yDomain[1]], {stroke: "#000", strokeWidth: 2.5})
  ]
});
document.getElementById("chart").appendChild(chart);
</script>
</body></html>
